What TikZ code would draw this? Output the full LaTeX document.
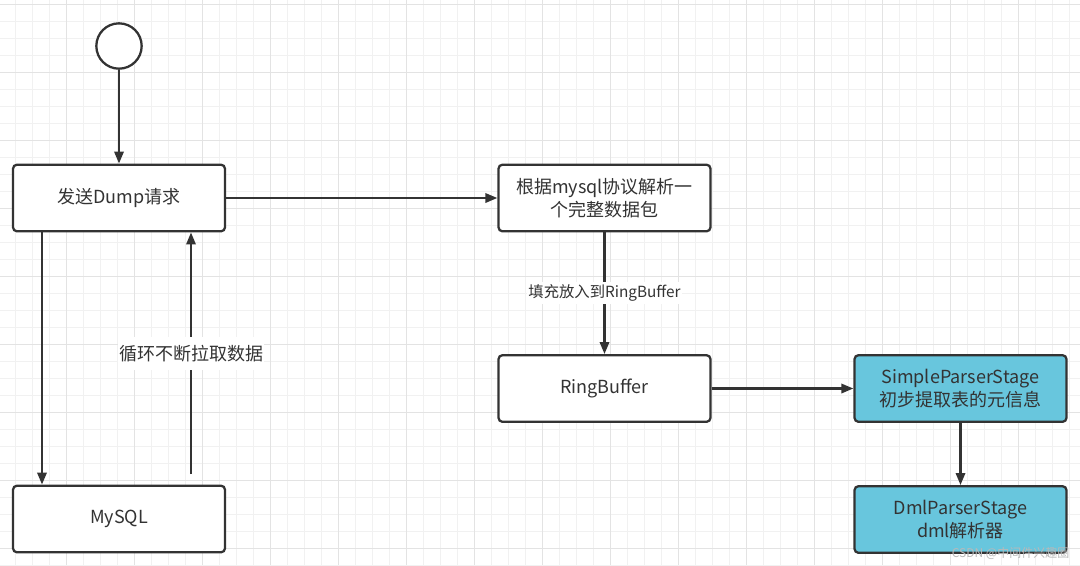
\documentclass[tikz,border=0pt]{standalone}
\usepackage{fontspec}
\setmainfont{Noto Sans CJK SC}
\usetikzlibrary{arrows.meta}
\definecolor{ink}{HTML}{333333}
\definecolor{cyanfill}{HTML}{68C6DD}
\definecolor{gridminor}{HTML}{F1F1F1}
\definecolor{gridmajor}{HTML}{E3E3E3}
\tikzset{
  box/.style={draw=ink, line width=1.7pt, rounded corners=3pt, fill=white,
    minimum width=159pt, minimum height=50pt, align=center, text=ink,
    font=\fontsize{13.5}{17.5}\selectfont, inner sep=0pt},
  cbox/.style={box, fill=cyanfill},
  arr/.style={draw=ink, line width=1.7pt, -{Triangle[length=9pt,width=7pt]}},
  lbl/.style={fill=white, text=ink, inner xsep=1pt},
}
\begin{document}
\begin{tikzpicture}[x=0.75pt,y=-0.75pt]
\useasboundingbox (0,0) rectangle (1080,565);
\fill[white] (0,0) rectangle (1080,565);
\begin{scope}
\clip (0,0) rectangle (1080,565);
\foreach \i in {0,...,63} {\draw[gridminor, line width=0.8pt] ({15.3+17*\i},0) -- ({15.3+17*\i},565);}
\foreach \i in {0,...,33} {\draw[gridminor, line width=0.8pt] (0,{4.5+17*\i}) -- (1080,{4.5+17*\i});}
\foreach \i in {0,...,15} {\draw[gridmajor, line width=0.9pt] ({66.3+68*\i},0) -- ({66.3+68*\i},565);}
\foreach \i in {0,...,8} {\draw[gridmajor, line width=0.9pt] (0,{4.5+68*\i}) -- (1080,{4.5+68*\i});}
\end{scope}

\node[circle, draw=ink, line width=1.7pt, fill=white, minimum size=34pt, inner sep=0pt] (start) at (119,46) {};
\node[box] (dump) at (119,198) {发送Dump请求};
\node[box] (parse) at (604.5,198) {根据mysql协议解析一\\个完整数据包};
\node[box] (ring) at (604.5,388.5) {RingBuffer};
\node[cbox] (simple) at (960.5,388.5) {SimpleParserStage\\初步提取表的元信息};
\node[cbox] (dml) at (960.5,519.5) {DmlParserStage\\dml解析器};
\node[box] (mysql) at (119,519) {MySQL};

\coordinate (downx) at (42,0);
\coordinate (upstart) at (191,474);

\draw[arr] (start) -- (dump);
\draw[arr] (dump) -- (parse);
\draw[arr] (dump.south -| downx) -- (downx |- mysql.north);
\draw[arr] (upstart) -- (upstart |- dump.south)
  node[lbl, pos=0.5, inner ysep=6pt, font=\fontsize{13.5}{16}\selectfont] {循环不断拉取数据};
\draw[arr] (parse) -- (ring)
  node[lbl, pos=0.5, inner ysep=2pt, font=\fontsize{11.5}{14}\selectfont] {填充放入到RingBuffer};
\draw[arr] (ring) -- (simple);
\draw[arr] (simple) -- (dml);

\node[text=gray!55, font=\fontsize{9}{10}\selectfont, anchor=east] (wm) at (1074,553) {CSDN @中间件兴趣圈};
\end{tikzpicture}
\end{document}
